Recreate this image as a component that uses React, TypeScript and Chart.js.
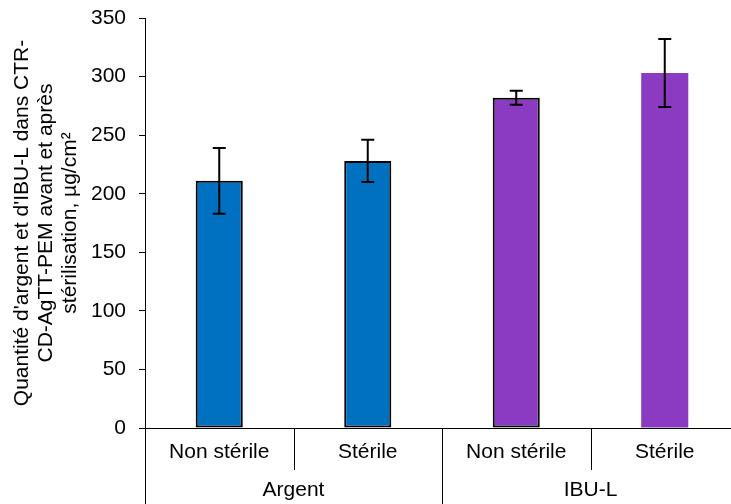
import React, { useEffect, useRef } from "react";
import { Chart, registerables } from "chart.js";

Chart.register(...registerables);

const groups = ["Argent", "IBU-L"];
const subLabels = ["Non stérile", "Stérile", "Non stérile", "Stérile"];
const values = [211, 228, 282, 303];
const errors = [28, 18, 6, 29];
const barColors = ["#0070C0", "#0070C0", "#8B3BC1", "#8B3BC1"];
const barBorders = [2, 2, 2, 0];
const yTicks = { min: 0, max: 350, step: 50 };
const yTitle = [
  "Quantité d'argent et d'IBU-L dans CTR-",
  "CD-AgTT-PEM avant et après",
  "stérilisation, µg/cm²",
];

const FONT = "'Liberation Sans', Arial, sans-serif";
const FS = 21;

const errorBarPlugin = {
  id: "errorBars",
  afterDatasetsDraw(chart: any) {
    const ctx = chart.ctx;
    const meta = chart.getDatasetMeta(0);
    const y = chart.scales.y;
    ctx.save();
    ctx.strokeStyle = "#000";
    ctx.lineWidth = 2;
    meta.data.forEach((bar: any, i: number) => {
      const x = bar.x;
      const top = y.getPixelForValue(values[i] + errors[i]);
      const bot = y.getPixelForValue(values[i] - errors[i]);
      ctx.beginPath();
      ctx.moveTo(x, top);
      ctx.lineTo(x, bot);
      ctx.moveTo(x - 6.5, top);
      ctx.lineTo(x + 6.5, top);
      ctx.moveTo(x - 6.5, bot);
      ctx.lineTo(x + 6.5, bot);
      ctx.stroke();
    });
    ctx.restore();
  },
};

const groupAxisPlugin = {
  id: "groupAxis",
  afterDraw(chart: any) {
    const ctx = chart.ctx;
    const xs = chart.scales.x;
    const base = chart.chartArea.bottom;
    const n = subLabels.length;
    const w = (xs.right - xs.left) / n;
    ctx.save();
    ctx.strokeStyle = "#000";
    ctx.lineWidth = 1;
    ctx.fillStyle = "#000";
    ctx.font = `${FS}px ${FONT}`;
    ctx.textAlign = "center";
    ctx.textBaseline = "middle";
    for (let i = 0; i <= n; i++) {
      const bx = Math.round(xs.left + i * w) + 0.5;
      const isGroup = i % 2 === 0;
      ctx.beginPath();
      ctx.moveTo(bx, base);
      ctx.lineTo(bx, isGroup ? chart.height : base + 42);
      ctx.stroke();
    }
    subLabels.forEach((lab, i) => {
      const cx = xs.getPixelForValue(i);
      ctx.fillText(lab, cx, base + 24);
    });
    groups.forEach((g, gi) => {
      const cx = (xs.getPixelForValue(gi * 2) + xs.getPixelForValue(gi * 2 + 1)) / 2;
      ctx.fillText(g, cx, base + 62);
    });
    ctx.restore();
  },
};

export default function App() {
  const ref = useRef<HTMLCanvasElement | null>(null);
  useEffect(() => {
    if (!ref.current) return;
    const chart = new Chart(ref.current, {
      type: "bar",
      data: {
        labels: subLabels,
        datasets: [
          {
            data: values,
            backgroundColor: barColors,
            borderColor: "#000",
            borderWidth: barBorders,
            borderSkipped: false,
            categoryPercentage: 1,
            barPercentage: 0.317,
          },
        ],
      },
      options: {
        responsive: false,
        animation: false,
        devicePixelRatio: 1,
        layout: { padding: { top: 18, right: 1, left: 0, bottom: 0 } },
        plugins: { legend: { display: false }, tooltip: { enabled: false } },
        scales: {
          x: {
            ticks: { display: false },
            grid: { display: false },
            border: { display: true, color: "#000", width: 1 },
            afterFit: (s: any) => {
              s.height = 76;
              s.paddingLeft = 0;
              s.paddingRight = 0;
            },
          },
          y: {
            min: yTicks.min,
            max: yTicks.max,
            ticks: {
              stepSize: yTicks.step,
              color: "#000",
              padding: 13,
              font: { family: FONT, size: FS },
            },
            grid: {
              display: true,
              drawOnChartArea: false,
              drawTicks: true,
              tickLength: 6,
              color: "#000",
            },
            border: { display: true, color: "#000", width: 1 },
            title: {
              display: true,
              text: yTitle,
              color: "#000",
              font: { family: FONT, size: FS, lineHeight: 1.15 },
              padding: { top: 10, bottom: 0 },
            },
            afterFit: (s: any) => {
              s.width = 145;
              s.paddingTop = 0;
              s.paddingBottom = 0;
            },
          },
        },
      },
      plugins: [errorBarPlugin, groupAxisPlugin],
    });
    return () => chart.destroy();
  }, []);
  return (
    <div
      style={{
        position: "absolute",
        left: 0,
        top: 0,
        width: 731,
        height: 504,
        overflow: "hidden",
        background: "#fff",
      }}
    >
      <canvas ref={ref} width={740} height={504} style={{ display: "block" }} />
    </div>
  );
}
